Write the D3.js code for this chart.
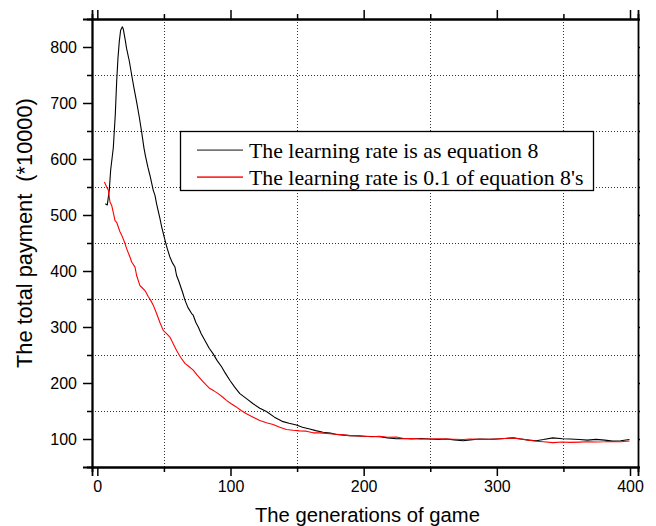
<!DOCTYPE html>
<html>
<head>
<meta charset="utf-8">
<script src="https://cdn.jsdelivr.net/npm/d3@7"></script>
<style>
  html, body { margin: 0; padding: 0; background: #fff; }
  svg { display: block; }
  .axis path, .axis line { stroke: #000; }
  .axis text { font-family: "Liberation Sans", Arial, sans-serif; font-size: 16px; fill: #000; }
</style>
</head>
<body>
<svg id="chart" width="656" height="526"></svg>
<script>
// Generation numbers and total payment (*10000) for each learning-rate setting
const genFull = [6, 7.5, 9, 10, 11, 12, 13.5, 14.5, 15.5, 16.5, 17.5, 18.8, 19.5, 21, 22, 24, 25.8, 27.5, 29.5, 31.5,
  33.3, 35, 36, 38, 39.5, 42, 43.3, 44.5, 47, 48.3, 50.8, 52.5, 54.5, 56.5, 58.3, 59.5, 61, 64, 65.8, 68,
  70.8, 72, 74, 75.8, 78, 80.8, 84, 87, 90, 93.3, 96, 99.5, 103, 107, 112, 117, 122, 127, 133, 139.5,
  144, 149.5, 154, 159.5, 164, 169.5, 175, 179.5, 185, 189.5, 195, 200, 206, 212, 218, 224.6, 230, 236, 243, 249.5,
  256, 262, 268, 274.6, 280, 287, 294.6, 300, 306, 312, 318, 324, 329.6, 335, 342, 349.3, 355, 362, 368, 374.6,
  381, 387, 393, 399.6];
const payFull = [520, 518, 545, 580, 600, 620, 680, 737, 780, 810, 830, 836, 832, 812, 797, 775, 750, 727, 702, 675,
  648, 620, 607, 585, 571, 544, 535, 520, 494, 479, 455, 440, 425, 414, 407, 392, 383, 362, 348, 335,
  324, 321, 308, 300, 288, 276, 262, 252, 240, 229, 218, 205, 193, 181, 172, 163, 155, 149, 139, 131,
  128, 125, 121, 118, 115, 112, 110.5, 108, 107, 106, 105.5, 105, 104.5, 104, 102, 100.5, 101, 100, 101, 100,
  99, 100, 98.5, 97, 98.5, 100, 99.3, 100, 101, 102, 100, 98, 97, 99, 102, 100.5, 100, 99, 98, 99.3,
  98, 96.5, 97, 99];

const genTenth = [5.3, 7, 8.3, 9.5, 10.8, 13.3, 14.5, 17, 18.3, 20.8, 22, 24.5, 25.8, 28.3, 29.5, 32, 33.3, 35.8, 38.3, 40,
  42, 44.5, 47, 49.5, 52, 54.5, 57, 59.5, 62.5, 65.8, 69, 72, 75, 78.3, 81.5, 84.5, 87.5, 90.8, 94, 97,
  100.5, 104.5, 108, 112, 117, 122, 127, 132, 137, 142, 147, 152, 157, 162, 167, 172, 177, 182, 186, 190,
  195, 200, 206, 212, 218, 224.6, 230, 236, 243, 249.5, 256, 262, 268, 274.6, 280, 287, 294.6, 300, 306, 312,
  318, 324, 329.6, 335, 342, 349.3, 355, 362, 368, 374.6, 381, 387, 393, 399.6];
const payTenth = [559, 550, 544, 523, 517, 490, 487, 470, 464, 449, 440, 425, 416, 407, 392, 374, 371, 365, 354, 348,
  339, 324, 308, 294, 288, 282, 270, 258, 246, 235, 229, 223, 214, 205, 197, 190, 186, 181, 175, 169,
  163, 157, 151, 145, 139, 133, 129, 126, 121, 117, 115.5, 114.5, 114, 111, 111, 110, 109, 108, 107, 106,
  106, 105, 104, 104.8, 103, 103.5, 101, 101, 100, 100, 100.5, 100, 99.5, 99, 100, 99.5, 99.3, 100, 101, 102,
  100, 98, 96, 95, 93.5, 94.7, 94, 94.5, 95, 94.7, 95, 95.6, 95, 96.3];

const seriesNames = ["The learning rate is as equation 8", "The learning rate is 0.1 of equation 8's"];
const seriesColors = ["#000000", "#ff0000"];
const legendSwatch = ["#555555", "#ff0000"];

const xMajor = [0, 100, 200, 300, 400];
const xMinor = [50, 150, 250, 350];
const yMajor = [100, 200, 300, 400, 500, 600, 700, 800];
const yMinor = [150, 250, 350, 450, 550, 650, 750];

const xTitle = "The generations of game";
const yTitle = "The total payment  (*10000)";

const svg = d3.select("#chart");
const plot = { left: 92, right: 638, top: 19, bottom: 467 };

const x = d3.scaleLinear().domain([-4, 406]).range([plot.left, plot.right]);
const y = d3.scaleLinear().domain([50, 850]).range([plot.bottom, plot.top]);

// fit a text element's font size so its run spans the given length
function fitText(sel, base, length) {
  sel.attr("font-size", base);
  const w = sel.node().getComputedTextLength();
  sel.attr("font-size", (base * length / w).toFixed(2));
}

// dotted grid at the half-hundred positions
const grid = svg.append("g").attr("stroke", "#333").attr("stroke-width", 1)
  .attr("stroke-dasharray", "1,2");
grid.selectAll(".gx").data(xMinor).join("line")
  .attr("x1", d => Math.round(x(d)) + 0.5).attr("x2", d => Math.round(x(d)) + 0.5)
  .attr("y1", plot.top).attr("y2", plot.bottom);
grid.selectAll(".gy").data(yMinor).join("line")
  .attr("y1", d => Math.round(y(d)) + 0.5).attr("y2", d => Math.round(y(d)) + 0.5)
  .attr("x1", plot.left).attr("x2", plot.right);

// data curves
const line = d3.line().x(d => x(d[0])).y(d => y(d[1]));
const series = [
  d3.zip(genFull, payFull),
  d3.zip(genTenth, payTenth)
];
svg.append("g").selectAll("path").data(series).join("path")
  .attr("fill", "none")
  .attr("stroke", (d, i) => seriesColors[i])
  .attr("stroke-width", 1.1)
  .attr("stroke-linejoin", "round")
  .attr("d", line);

// axes: labelled majors, short minors on all four sides
svg.append("g").attr("class", "axis")
  .attr("transform", `translate(0,${plot.bottom})`)
  .call(d3.axisBottom(x).tickValues(xMajor).tickSize(9).tickPadding(5).tickFormat(d3.format("d")));
svg.append("g").attr("class", "axis")
  .attr("transform", `translate(0,${plot.bottom})`)
  .call(d3.axisBottom(x).tickValues(xMinor).tickSize(5).tickFormat(""));

svg.append("g").attr("class", "axis")
  .attr("transform", `translate(0,${plot.top})`)
  .call(d3.axisTop(x).tickValues(xMajor).tickSize(9).tickFormat(""));
svg.append("g").attr("class", "axis")
  .attr("transform", `translate(0,${plot.top})`)
  .call(d3.axisTop(x).tickValues(xMinor).tickSize(5).tickFormat(""));

svg.append("g").attr("class", "axis")
  .attr("transform", `translate(${plot.left},0)`)
  .call(d3.axisLeft(y).tickValues(yMajor).tickSize(9).tickPadding(6).tickFormat(d3.format("d")));
svg.append("g").attr("class", "axis")
  .attr("transform", `translate(${plot.left},0)`)
  .call(d3.axisLeft(y).tickValues(yMinor).tickSize(5).tickFormat(""));

svg.append("g").attr("class", "axis")
  .attr("transform", `translate(${plot.right},0)`)
  .call(d3.axisRight(y).tickValues(yMajor.concat(yMinor)).tickSize(2).tickFormat(""));

svg.selectAll(".axis .domain").attr("stroke-width", 1.8);
svg.selectAll(".axis .tick line").attr("stroke-width", 1.5);

// axis titles
svg.append("text")
  .attr("x", 255).attr("y", 522)
  .attr("font-family", "Liberation Sans, Arial, sans-serif")
  .text(xTitle)
  .call(fitText, 20, 225);

svg.append("text")
  .attr("transform", "translate(32,368) rotate(-90)")
  .attr("font-family", "Liberation Sans, Arial, sans-serif")
  .style("white-space", "pre")
  .text(yTitle)
  .call(fitText, 20, 270);

// legend
const legend = svg.append("g");
legend.append("rect")
  .attr("x", 180.5).attr("y", 131.5).attr("width", 413).attr("height", 59)
  .attr("fill", "#fff").attr("stroke", "#000").attr("stroke-width", 1.3);
const rows = legend.selectAll("g.row")
  .data(seriesNames.map((name, i) => ({ name, color: legendSwatch[i], i })))
  .join("g")
  .attr("class", "row")
  .attr("transform", d => `translate(0,${150 + d.i * 27})`);
rows.append("rect")
  .attr("x", 197).attr("y", -0.6).attr("width", 46).attr("height", 1.4)
  .attr("fill", d => d.color);
rows.append("text")
  .attr("x", 249).attr("y", 7.5)
  .attr("font-family", "Liberation Serif, Times New Roman, serif")
  .attr("font-size", 21.8)
  .text(d => d.name);
</script>
</body>
</html>
